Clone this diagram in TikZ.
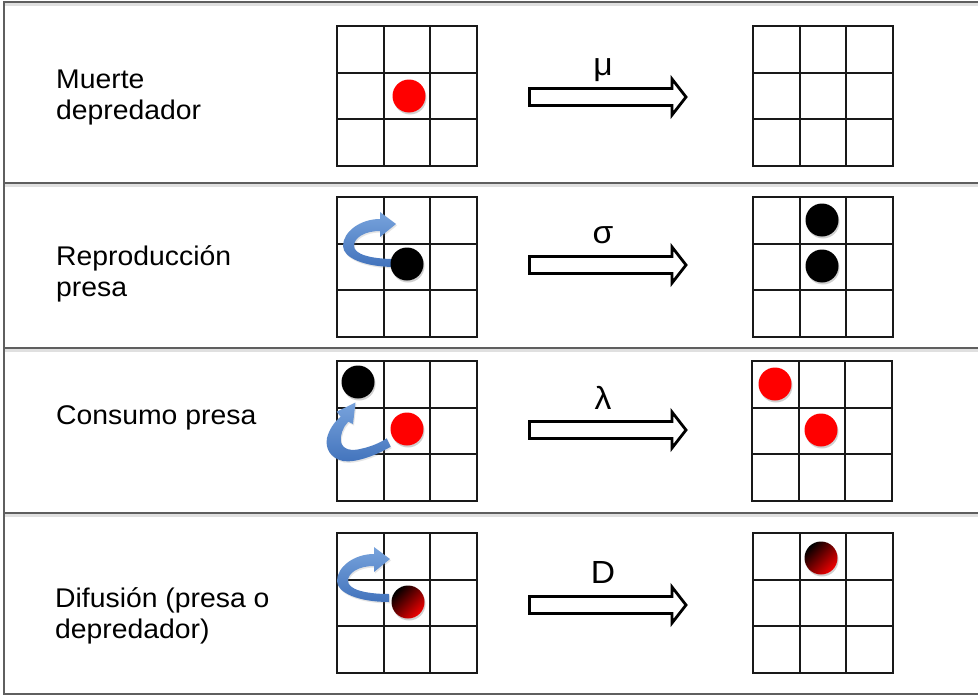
\documentclass[tikz,border=0pt]{standalone}
\usepackage{fontspec}
\setmainfont{Liberation Sans}[FakeStretch=1.05]
\usetikzlibrary{shadows}
\definecolor{framegray}{RGB}{95,95,95}
\definecolor{blueA}{RGB}{120,163,220}
\definecolor{blueB}{RGB}{66,115,188}
\definecolor{dotred}{RGB}{255,0,0}

\tikzset{
  lbl/.style={anchor=base west, font=\fontsize{27}{31}\selectfont, inner sep=0pt},
  rate/.style={anchor=base, font=\fontsize{32}{36}\selectfont, inner sep=0pt},
  gridline/.style={line width=2pt, draw=black!90},
  blockarrow/.style={draw=black, line width=2.8pt, fill=white, line join=miter},
  dotshadow/.style={drop shadow={opacity=0.3, shadow xshift=1pt, shadow yshift=-2pt, fill=black!60}},
  curvearrow/.style={top color=blueA, bottom color=blueB, drop shadow={opacity=0.2, shadow xshift=1pt, shadow yshift=-1.5pt}},
  framerule/.style={draw=framegray, line width=2pt},
  frameshade/.style={draw=black!12, line width=3pt},
}

\newcommand\cellgrid[2]{%
  \draw[gridline] (#1,#2) rectangle ({#1+140},{#2+140});
  \foreach \i in {1,2} {
    \draw[gridline] ({#1+\i*46.667},#2) -- ({#1+\i*46.667},{#2+140});
    \draw[gridline] (#1,{#2+\i*46.667}) -- ({#1+140},{#2+\i*46.667});
  }%
}
\newcommand\blockarr[1]{%
  \draw[blockarrow] (529.5,{#1-8.5}) -- (672,{#1-8.5}) -- (672,{#1-18}) -- (686,#1) -- (672,{#1+18}) -- (672,{#1+8.5}) -- (529.5,{#1+8.5}) -- cycle;%
}

\begin{document}
\begin{tikzpicture}[x=1pt,y=-1pt]
\useasboundingbox (0,0) rectangle (978,696);
\fill[white] (0,0) rectangle (978,696);

% frame
\foreach \yy in {183,348,513} {
  \draw[frameshade] (5,\yy+2.5) -- (978,\yy+2.5);
}
\draw[frameshade] (5,4.5) -- (978,4.5);
\draw[framerule] (978,2) -- (4,2) -- (4,694) -- (978,694);
\foreach \yy in {183,348,513} {
  \draw[framerule] (4,\yy) -- (978,\yy);
}

% grids
\cellgrid{337}{26}
\cellgrid{753}{26}
\cellgrid{337}{197}
\cellgrid{753}{197}
\cellgrid{337}{361}
\cellgrid{752}{361}
\cellgrid{337}{533}
\cellgrid{753}{533}

% block arrows
\blockarr{97}
\blockarr{265}
\blockarr{430}
\blockarr{605}

% rate labels
\node[rate] (mu) at (603,75) {μ};
\node[rate] (sigma) at (603,243) {σ};
\node[rate] (lambda) at (603,409) {λ};
\node[rate] (dd) at (603,583) {D};

% row labels
\node[lbl] (t1a) at (56,88) {Muerte};
\node[lbl] (t1b) at (56,119) {depredador};
\node[lbl] (t2a) at (56,265) {Reproducción};
\node[lbl] (t2b) at (56,296) {presa};
\node[lbl] (t3a) at (56,424) {Consumo presa};
\node[lbl] (t4a) at (55,607) {Difusión (presa o};
\node[lbl] (t4b) at (55,638) {depredador)};

% curved blue arrows
\path[curvearrow] (395,267) .. controls (365,267) and (343,258) .. (343,246)
  .. controls (343,232) and (360,219) .. (380,219) -- (380,212) -- (396,224) -- (380,237) -- (380,231)
  .. controls (364,231) and (354,238) .. (354,246)
  .. controls (354,254) and (370,259) .. (395,259) -- cycle;
\begin{scope}[shift={(-6,335)}]
\path[curvearrow] (395,267) .. controls (365,267) and (343,258) .. (343,246)
  .. controls (343,232) and (360,219) .. (380,219) -- (380,212) -- (396,224) -- (380,237) -- (380,231)
  .. controls (364,231) and (354,238) .. (354,246)
  .. controls (354,254) and (370,259) .. (395,259) -- cycle;
\end{scope}
\path[curvearrow] (390.7,446.7) .. controls (375,456) and (355,463) .. (343,461)
  .. controls (330,458) and (325,448) .. (327,438)
  .. controls (329,430) and (334,422) .. (340.7,416.7) -- (336.7,411.7) -- (355.5,402.5) -- (353,424) -- (348.3,421.7)
  .. controls (343,427) and (340,435) .. (341,442)
  .. controls (343,450) and (352,451) .. (360,449)
  .. controls (370,447) and (380,443) .. (386.7,438.3) -- cycle;

% dots
\fill[dotred, dotshadow] (409,96) circle (16.5);
\fill[black, dotshadow] (407,264) circle (16.5);
\fill[black, dotshadow] (822,220) circle (16.5);
\fill[black, dotshadow] (822,266) circle (16.5);
\fill[black, dotshadow] (358,382) circle (16.5);
\fill[dotred, dotshadow] (407,429) circle (16.5);
\fill[dotred, dotshadow] (775,384) circle (16.5);
\fill[dotred, dotshadow] (821,430) circle (16.5);
\path[dotshadow, top color=black, middle color=black!85!red, bottom color=red!95!black, shading angle=45] (408,602) circle (16.5);
\path[dotshadow, top color=black, middle color=black!85!red, bottom color=red!95!black, shading angle=45] (821,558) circle (16.5);
\end{tikzpicture}
\end{document}
